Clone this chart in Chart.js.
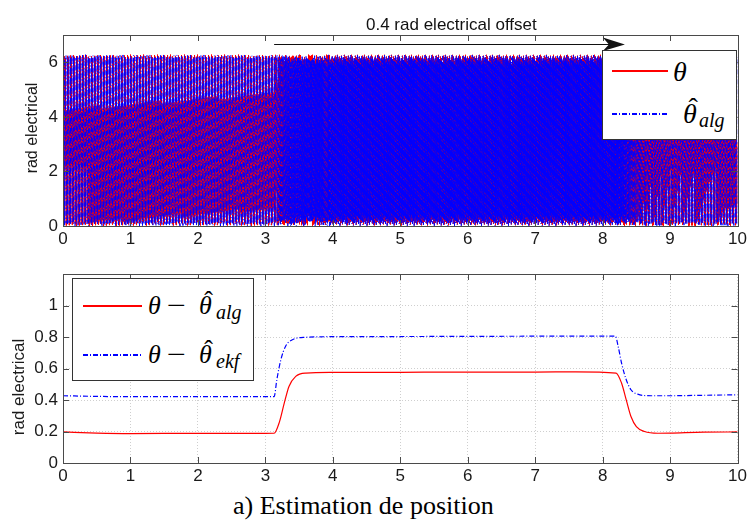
<!DOCTYPE html>
<html>
<head>
<meta charset="utf-8">
<script src="https://cdn.jsdelivr.net/npm/chart.js@4.4.1/dist/chart.umd.min.js"></script>
<style>
  body { margin: 0; background: #fff; }
  #wrap { position: relative; width: 750px; height: 522px; overflow: hidden; }
  .cv { position: absolute; left: 0; width: 750px; }
  #topBox { top: 0; height: 250px; }
  #botBox { top: 250px; height: 240px; }
  .legBox { position: absolute; background: #fff; border: 1px solid #333; box-sizing: border-box; }
  .solid { position: absolute; height: 2px; background: #ff0000; }
  .dashdot { position: absolute; height: 2px;
    background: repeating-linear-gradient(90deg, #0000ff 0 5px, transparent 5px 7px, #0000ff 7px 8px, transparent 8px 10px); }
  .tx { position: absolute; line-height: 1; white-space: nowrap; color: #000;
        font-family: "Liberation Serif", "Times New Roman", serif; }
</style>
</head>
<body>
<div id="wrap">
  <div class="cv" id="topBox"><canvas id="topChart" width="750" height="250"></canvas></div>
  <div class="cv" id="botBox"><canvas id="botChart" width="750" height="240"></canvas></div>
  <div class="legBox" style="left:602px;top:50px;width:135px;height:90px"></div>
  <div class="solid" style="left:612px;top:70px;width:56px"></div>
  <div class="dashdot" style="left:612px;top:113px;width:56px"></div>
  <div class="legBox" style="left:72px;top:278px;width:182px;height:103px"></div>
  <div class="solid" style="left:83px;top:305px;width:59px"></div>
  <div class="dashdot" style="left:83px;top:354px;width:59px"></div>
</div>
<script>
// ---- data (time in s) ----
// electrical speed of the motor, Hz
const speedT  = [0, 3.13, 3.2, 3.3, 3.45, 3.6, 4, 8.18, 8.28, 8.4, 8.5, 8.65, 10];
const speedHz = [45, 45, 62, 88, 112, 124, 130, 130, 112, 80, 60, 48, 45];

// position error of the algorithm estimate, rad
const errAlgT = [0, 0.5, 1, 2, 3, 3.13, 3.21, 3.28, 3.35, 3.45, 3.6, 4, 5, 6, 7, 7.6, 8.2, 8.28, 8.35, 8.42, 8.5, 8.62, 8.82, 9, 9.5, 10];
const errAlg  = [0.197, 0.19, 0.187, 0.188, 0.188, 0.189, 0.263, 0.38, 0.486, 0.55, 0.571, 0.575, 0.576, 0.577, 0.577, 0.579, 0.571, 0.508, 0.401, 0.295, 0.231, 0.2, 0.189, 0.19, 0.196, 0.197];

// position error of the EKF estimate, rad
const errEkfT = [0, 0.5, 1, 2, 3, 3.13, 3.17, 3.23, 3.3, 3.4, 3.6, 4, 5, 6, 7, 8, 8.19, 8.23, 8.28, 8.35, 8.42, 8.52, 8.72, 9, 9.5, 10];
const errEkf  = [0.427, 0.423, 0.421, 0.421, 0.421, 0.421, 0.529, 0.656, 0.741, 0.783, 0.798, 0.802, 0.803, 0.804, 0.805, 0.805, 0.805, 0.741, 0.635, 0.529, 0.465, 0.437, 0.427, 0.427, 0.43, 0.433];

const xTicks = [0, 1, 2, 3, 4, 5, 6, 7, 8, 9, 10];
const sampleStep = 0.0005;

function lerp(ts, vs, t) {
  if (t <= ts[0]) return vs[0];
  for (let i = 1; i < ts.length; i++) {
    if (t <= ts[i]) {
      const k = (t - ts[i - 1]) / (ts[i] - ts[i - 1]);
      return vs[i - 1] + k * (vs[i] - vs[i - 1]);
    }
  }
  return vs[vs.length - 1];
}

// wrapped electrical angle and its estimate
const TWO_PI = 2 * Math.PI;
const thetaPts = [], thetaAlgPts = [];
let phase = 0;
const n = Math.round(10 / sampleStep);
for (let i = 0; i <= n; i++) {
  const t = i * sampleStep;
  const th = ((phase % TWO_PI) + TWO_PI) % TWO_PI;
  const est = (((phase - lerp(errAlgT, errAlg, t)) % TWO_PI) + TWO_PI) % TWO_PI;
  thetaPts.push({ x: t, y: th });
  thetaAlgPts.push({ x: t, y: est });
  phase += TWO_PI * lerp(speedT, speedHz, t) * sampleStep;
}

const algPts = errAlgT.map((t, i) => ({ x: t, y: errAlg[i] }));
const ekfPts = errEkfT.map((t, i) => ({ x: t, y: errEkf[i] }));

// ---- matlab-like frame: box, inward ticks, y title ----
const framePlugin = {
  id: 'frame',
  afterDraw(chart, args, opts) {
    const { ctx, chartArea: a, scales } = chart;
    ctx.save();
    ctx.strokeStyle = '#4a4a4a';
    ctx.lineWidth = 1;
    ctx.beginPath();
    scales.x.ticks.forEach(tk => {
      const px = Math.round(scales.x.getPixelForValue(tk.value)) + 0.5;
      ctx.moveTo(px, a.bottom); ctx.lineTo(px, a.bottom - 6);
      ctx.moveTo(px, a.top); ctx.lineTo(px, a.top + 6);
    });
    scales.y.ticks.forEach(tk => {
      if (tk.value <= scales.y.min || tk.value >= scales.y.max) return;
      const py = Math.round(scales.y.getPixelForValue(tk.value)) + 0.5;
      ctx.moveTo(a.left, py); ctx.lineTo(a.left + 6, py);
      ctx.moveTo(a.right, py); ctx.lineTo(a.right - 6, py);
    });
    ctx.stroke();
    ctx.strokeRect(Math.round(a.left) + 0.5, Math.round(a.top) + 0.5,
      Math.round(a.right - a.left), Math.round(a.bottom - a.top));

    ctx.fillStyle = '#1a1a1a';
    ctx.font = opts.titleSize + 'px "Liberation Sans", Arial, sans-serif';
    ctx.translate(opts.titleX, opts.titleY);
    ctx.rotate(-Math.PI / 2);
    ctx.textAlign = 'center';
    ctx.textBaseline = 'middle';
    ctx.fillText('rad electrical', 0, 0);
    ctx.restore();
  }
};

// arrow "0.4 rad electrical offset" above the top plot
const arrowFrom = 3.13, arrowTo = 8.33;
const arrowPlugin = {
  id: 'offsetArrow',
  afterDraw(chart) {
    const { ctx, scales } = chart;
    const x0 = scales.x.getPixelForValue(arrowFrom);
    const x1 = scales.x.getPixelForValue(arrowTo);
    const y = 44;
    ctx.save();
    ctx.strokeStyle = '#111';
    ctx.fillStyle = '#111';
    ctx.lineWidth = 1;
    ctx.beginPath();
    ctx.moveTo(x0, y + 0.5); ctx.lineTo(x1 - 15, y + 0.5);
    ctx.stroke();
    ctx.beginPath();
    ctx.moveTo(x1 - 22, y - 6.5);
    ctx.lineTo(x1, y + 0.5);
    ctx.lineTo(x1 - 22, y + 7);
    ctx.lineTo(x1 - 16, y + 0.5);
    ctx.closePath();
    ctx.fill();
    ctx.font = '17px "Liberation Sans", Arial, sans-serif';
    ctx.textAlign = 'left';
    ctx.textBaseline = 'alphabetic';
    ctx.fillText('0.4 rad electrical offset', 366, 30);
    ctx.restore();
  }
};

const tickFont = { family: '"Liberation Sans", Arial, sans-serif', size: 17 };
const fmt = v => String(Number(v.toFixed(1)));

new Chart(document.getElementById('topChart'), {
  type: 'line',
  data: {
    datasets: [
      { data: thetaPts, borderColor: '#ff0000', borderWidth: 1, order: 2 },
      { data: thetaAlgPts, borderColor: '#0000ff', borderWidth: 1, borderDash: [5, 2, 1, 2], order: 1 }
    ]
  },
  options: {
    responsive: false, devicePixelRatio: 1, animation: false, events: [],
    parsing: false, normalized: true,
    elements: { point: { radius: 0 }, line: { tension: 0 } },
    layout: { padding: { top: 35, right: 10, left: 0, bottom: 0 } },
    plugins: { legend: { display: false }, tooltip: { enabled: false },
      frame: { titleX: 33, titleY: 128, titleSize: 16 } },
    scales: {
      x: {
        type: 'linear', min: 0, max: 10,
        afterBuildTicks: s => { s.ticks = xTicks.map(v => ({ value: v })); },
        ticks: { font: tickFont, color: '#1a1a1a', padding: 3, maxRotation: 0, callback: fmt },
        grid: { display: false, drawTicks: false }, border: { display: false },
        afterFit: s => { s.height = 24; }
      },
      y: {
        min: 0, max: 7,
        ticks: { stepSize: 2, font: tickFont, color: '#1a1a1a', padding: 5,
          callback: v => (v > 6.5 ? '' : fmt(v)) },
        grid: { display: false, drawTicks: false }, border: { display: false },
        afterFit: s => { s.width = 63; }
      }
    }
  },
  plugins: [framePlugin, arrowPlugin]
});

new Chart(document.getElementById('botChart'), {
  type: 'line',
  data: {
    datasets: [
      { data: algPts, borderColor: '#ff0000', borderWidth: 1.2 },
      { data: ekfPts, borderColor: '#0000ff', borderWidth: 1.2, borderDash: [5, 2, 1, 2] }
    ]
  },
  options: {
    responsive: false, devicePixelRatio: 1, animation: false, events: [],
    parsing: false,
    elements: { point: { radius: 0 }, line: { tension: 0.3, cubicInterpolationMode: 'monotone' } },
    layout: { padding: { top: 24, right: 10, left: 0, bottom: 0 } },
    plugins: { legend: { display: false }, tooltip: { enabled: false },
      frame: { titleX: 19, titleY: 137, titleSize: 17 } },
    scales: {
      x: {
        type: 'linear', min: 0, max: 10,
        afterBuildTicks: s => { s.ticks = xTicks.map(v => ({ value: v })); },
        ticks: { font: tickFont, color: '#1a1a1a', padding: 3, maxRotation: 0, callback: fmt },
        grid: { color: '#cfcfcf', drawTicks: false }, border: { display: false, dash: [1, 2] },
        afterFit: s => { s.height = 27; }
      },
      y: {
        min: 0, max: 1.2,
        ticks: { stepSize: 0.2, font: tickFont, color: '#1a1a1a', padding: 5,
          callback: v => (v > 1.1 ? '' : fmt(v)) },
        grid: { color: '#cfcfcf', drawTicks: false }, border: { display: false, dash: [1, 2] },
        afterFit: s => { s.width = 63; }
      }
    }
  },
  plugins: [framePlugin]
});

// ---- legends and caption text ----
const wrap = document.getElementById('wrap');
function txt(s, x, base, size, italic) {
  const el = document.createElement('div');
  el.className = 'tx';
  el.textContent = s;
  el.style.left = x + 'px';
  el.style.top = (base - 0.8375 * size) + 'px';
  el.style.fontSize = size + 'px';
  el.style.fontStyle = italic ? 'italic' : 'normal';
  wrap.appendChild(el);
  return el;
}
function hatTheta(x, base, size) {
  txt('\u03b8', x, base, size, true);
  txt('\u02c6', x + size * 0.2, base - size * 0.2, size, false);
}

// top legend
txt('\u03b8', 673, 81, 28, true);
hatTheta(683, 123, 28);
txt('alg', 699, 127, 20, true);

// bottom legend
[[315, 'alg'], [364, 'ekf']].forEach(([b, sub]) => {
  txt('\u03b8', 148, b, 26, true);
  const m = txt('\u2212', 167, b, 26, false);
  m.style.transform = 'scaleX(1.3)';
  m.style.transformOrigin = 'left center';
  hatTheta(199, b, 26);
  txt(sub, 216, b + 4, 20, true);
});

// caption
txt('a) Estimation de position', 233, 515, 26, false);
</script>
</body>
</html>
